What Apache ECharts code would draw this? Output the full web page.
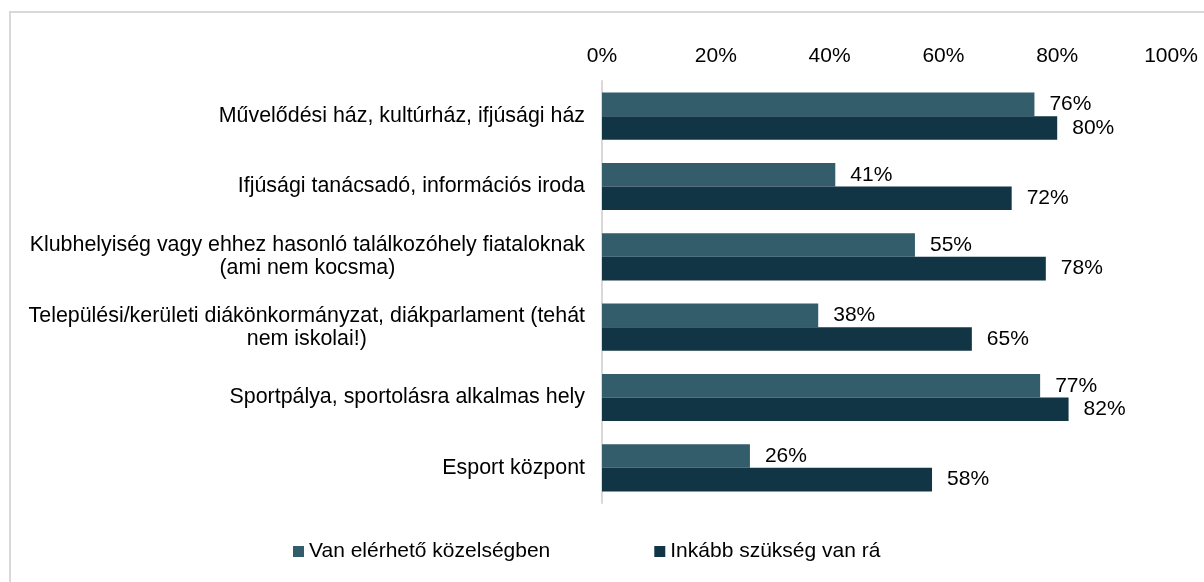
<!DOCTYPE html>
<html>
<head>
<meta charset="utf-8">
<script src="https://cdn.jsdelivr.net/npm/echarts@6/dist/echarts.min.js"></script>
<style>
html,body{margin:0;padding:0;background:#fff;}
#chart{width:1204px;height:582px;}
</style>
</head>
<body>
<div id="chart"></div>
<script>
const categories = [
  'Művelődési ház, kultúrház, ifjúsági ház',
  'Ifjúsági tanácsadó, információs iroda',
  'Klubhelyiség vagy ehhez hasonló találkozóhely fiataloknak\n(ami nem kocsma)',
  'Települési/kerületi diákönkormányzat, diákparlament (tehát\nnem iskolai!)',
  'Sportpálya, sportolásra alkalmas hely',
  'Esport központ'
];
const seriesNames = ['Van elérhető közelségben', 'Inkább szükség van rá'];
const availableValues = [76, 41, 55, 38, 77, 26];
const neededValues = [80, 72, 78, 65, 82, 58];
const xTicks = [0, 20, 40, 60, 80, 100];

const FONT = '"Liberation Sans", Arial, sans-serif';
const chart = echarts.init(document.getElementById('chart'), null, {renderer: 'canvas'});

const labelStyle = {
  show: true,
  position: 'right',
  distance: 15,
  color: '#000',
  fontSize: 21,
  fontFamily: FONT,
  formatter: p => p.value + '%'
};

chart.setOption({
  animation: false,
  backgroundColor: '#fff',
  graphic: [
    {type: 'line', shape: {x1: 9, y1: 12, x2: 1204, y2: 12}, style: {stroke: '#d9d9d9', lineWidth: 2}},
    {type: 'line', shape: {x1: 10, y1: 11, x2: 10, y2: 582}, style: {stroke: '#d9d9d9', lineWidth: 2}}
  ],
  grid: {left: 602, right: 33, top: 81, height: 422, containLabel: false},
  legend: {
    left: 288,
    top: 536,
    icon: 'rect',
    itemWidth: 11,
    itemHeight: 11,
    itemGap: 104,
    textStyle: {color: '#000', fontSize: 21, fontFamily: FONT},
    data: seriesNames
  },
  xAxis: {
    type: 'value',
    position: 'top',
    min: xTicks[0],
    max: xTicks[xTicks.length - 1],
    interval: 20,
    axisLine: {show: false},
    axisTick: {show: false},
    splitLine: {show: false},
    axisLabel: {
      color: '#000',
      fontSize: 21,
      fontFamily: FONT,
      margin: 14,
      formatter: v => v + '%'
    }
  },
  yAxis: {
    type: 'category',
    inverse: true,
    data: categories,
    axisLine: {show: true, lineStyle: {color: '#d9d9d9', width: 2}},
    axisTick: {show: false},
    axisLabel: {
      margin: 17,
      align: 'right',
      fontSize: 21.4,
      fontFamily: FONT,
      color: '#000',
      lineHeight: 23,
      formatter: v => v.split('\n').map(l => '{c|' + l + '}').join('\n'),
      rich: {
        c: {align: 'center', fontSize: 21.4, fontFamily: FONT, color: '#000', lineHeight: 23}
      }
    }
  },
  series: [
    {
      name: seriesNames[0],
      type: 'bar',
      data: availableValues,
      barGap: '0%',
      barCategoryGap: '33%',
      itemStyle: {color: '#345d6c'},
      label: labelStyle
    },
    {
      name: seriesNames[1],
      type: 'bar',
      data: neededValues,
      barGap: '0%',
      barCategoryGap: '33%',
      itemStyle: {color: '#123545'},
      label: labelStyle
    }
  ]
});
</script>
</body>
</html>
